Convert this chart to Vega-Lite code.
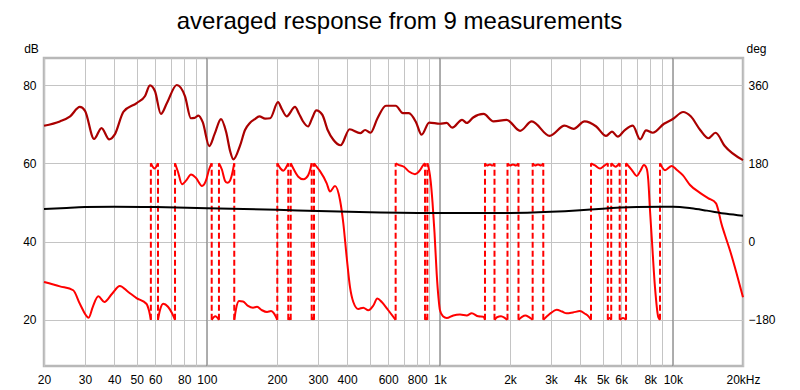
{
  "$schema": "https://vega.github.io/schema/vega-lite/v6.json",
  "width": 699,
  "height": 308,
  "autosize": {"type": "none"},
  "padding": {"left": 44, "top": 58, "right": 57, "bottom": 24},
  "background": "white",
  "config": {
    "font": "Liberation Sans",
    "view": {"stroke": "#b8b8b8", "strokeWidth": 2.5},
    "axis": {"labelFont": "Liberation Sans", "labelFontSize": 12, "labelColor": "#000", "titleFont": "Liberation Sans", "titleFontSize": 12, "titleFontWeight": "normal", "titleColor": "#000"}
  },
  "title": {"text": "averaged response from 9 measurements", "font": "Liberation Sans", "fontSize": 24, "fontWeight": "normal", "color": "#000", "anchor": "middle", "frame": "group", "offset": 8, "dx": 6},
  "datasets": {
    "decades": [{"f": 100}, {"f": 1000}, {"f": 10000}],
    "mag": [
      {"f": 20, "db": 69.6}, {"f": 23.4, "db": 70.7}, {"f": 25.9, "db": 72.0}, {"f": 28.5, "db": 74.4}, {"f": 30.0, "db": 73.4},
      {"f": 32.8, "db": 66.2}, {"f": 35.3, "db": 69.0}, {"f": 38.1, "db": 66.1}, {"f": 40.2, "db": 67.3}, {"f": 43.9, "db": 73.2},
      {"f": 50, "db": 75.4}, {"f": 54.3, "db": 77.2}, {"f": 57, "db": 79.9}, {"f": 59.9, "db": 78.4}, {"f": 63.5, "db": 72.6},
      {"f": 67.4, "db": 75.4}, {"f": 74.3, "db": 80.0}, {"f": 80.6, "db": 77.1}, {"f": 85.4, "db": 71.5}, {"f": 88.5, "db": 71.6},
      {"f": 92, "db": 72.2}, {"f": 96, "db": 70.5}, {"f": 102.4, "db": 64.4}, {"f": 108, "db": 67.5}, {"f": 115, "db": 71.3},
      {"f": 121, "db": 68}, {"f": 126, "db": 63}, {"f": 130, "db": 61.0}, {"f": 138.8, "db": 64.5}, {"f": 145.8, "db": 68.5},
      {"f": 153, "db": 70.3}, {"f": 160, "db": 71.2}, {"f": 168, "db": 72.0}, {"f": 178, "db": 71.4}, {"f": 187, "db": 71.5},
      {"f": 202, "db": 75.6}, {"f": 210, "db": 73.8}, {"f": 220, "db": 72.0}, {"f": 239, "db": 74.4}, {"f": 248, "db": 72.8},
      {"f": 258, "db": 70.8}, {"f": 272, "db": 69.4}, {"f": 283, "db": 71.5}, {"f": 295, "db": 73.5}, {"f": 313, "db": 72.4},
      {"f": 330, "db": 68.5}, {"f": 349, "db": 66.0}, {"f": 375, "db": 64.6}, {"f": 410, "db": 68.7}, {"f": 455, "db": 67.7},
      {"f": 478, "db": 68.5}, {"f": 504, "db": 67.8}, {"f": 540, "db": 71.5}, {"f": 587, "db": 74.7}, {"f": 646, "db": 74.7},
      {"f": 694, "db": 72.8}, {"f": 736, "db": 72.8}, {"f": 790, "db": 70.5}, {"f": 835, "db": 67.3}, {"f": 900, "db": 70.4},
      {"f": 1000, "db": 70.1}, {"f": 1070, "db": 70.3}, {"f": 1130, "db": 69.1}, {"f": 1245, "db": 71.1}, {"f": 1305, "db": 70.3},
      {"f": 1390, "db": 71.7}, {"f": 1540, "db": 72.6}, {"f": 1700, "db": 70.7}, {"f": 1935, "db": 71.1}, {"f": 2210, "db": 68.3},
      {"f": 2480, "db": 70.7}, {"f": 2960, "db": 67.0}, {"f": 3430, "db": 69.6}, {"f": 3750, "db": 68.8}, {"f": 4180, "db": 70.7},
      {"f": 4690, "db": 69.4}, {"f": 5170, "db": 67.0}, {"f": 5480, "db": 68.1}, {"f": 5800, "db": 66.8}, {"f": 6220, "db": 68.5},
      {"f": 6730, "db": 69.6}, {"f": 7240, "db": 66.1}, {"f": 7670, "db": 68.4}, {"f": 8200, "db": 67.8}, {"f": 9160, "db": 70.1},
      {"f": 10000, "db": 71.3}, {"f": 11070, "db": 73.1}, {"f": 11930, "db": 72}, {"f": 13100, "db": 68.5}, {"f": 14200, "db": 66.4},
      {"f": 15250, "db": 67.8}, {"f": 16700, "db": 64.4}, {"f": 20000, "db": 60.8}
    ],
    "black": [
      {"f": 20, "db": 48.3}, {"f": 25, "db": 48.6}, {"f": 30, "db": 48.8}, {"f": 40, "db": 48.9}, {"f": 60, "db": 48.8},
      {"f": 100, "db": 48.5}, {"f": 200, "db": 48.1}, {"f": 300, "db": 47.8}, {"f": 500, "db": 47.5}, {"f": 1000, "db": 47.3},
      {"f": 2000, "db": 47.3}, {"f": 3000, "db": 47.6}, {"f": 4000, "db": 48.0}, {"f": 5000, "db": 48.4}, {"f": 7000, "db": 48.8},
      {"f": 9000, "db": 48.9}, {"f": 10000, "db": 48.9}, {"f": 12000, "db": 48.5}, {"f": 14000, "db": 47.9}, {"f": 17000, "db": 47.1},
      {"f": 20000, "db": 46.6}
    ],
    "wraps": [
      {"f": 57.5}, {"f": 61.7}, {"f": 73.0}, {"f": 104.9}, {"f": 112.7}, {"f": 131.1}, {"f": 200.6}, {"f": 223.6}, {"f": 229.0},
      {"f": 281.8}, {"f": 288.3}, {"f": 646}, {"f": 863.7}, {"f": 883.6}, {"f": 1562}, {"f": 1716}, {"f": 1951}, {"f": 2175},
      {"f": 2502}, {"f": 2779}, {"f": 4453}, {"f": 5258}, {"f": 5438}, {"f": 5913}, {"f": 6295}, {"f": 8807}
    ],
    "phase": [
      {"s": 1, "f": 20, "deg": -93}, {"s": 1, "f": 23.4, "deg": -103}, {"s": 1, "f": 26.7, "deg": -112}, {"s": 1, "f": 28.5, "deg": -143},
      {"s": 1, "f": 31.1, "deg": -175}, {"s": 1, "f": 32.4, "deg": -150}, {"s": 1, "f": 34.2, "deg": -126}, {"s": 1, "f": 36.3, "deg": -139},
      {"s": 1, "f": 39.2, "deg": -120}, {"s": 1, "f": 42.3, "deg": -102}, {"s": 1, "f": 46.0, "deg": -116}, {"s": 1, "f": 49.9, "deg": -130},
      {"s": 1, "f": 55, "deg": -143}, {"s": 1, "f": 56.4, "deg": -158}, {"s": 1, "f": 57.5, "deg": -180},
      {"s": 2, "f": 57.5, "deg": 180}, {"s": 2, "f": 59.6, "deg": 168}, {"s": 2, "f": 61.7, "deg": 180},
      {"s": 3, "f": 61.7, "deg": -180}, {"s": 3, "f": 62.9, "deg": -158}, {"s": 3, "f": 65.0, "deg": -143}, {"s": 3, "f": 68.1, "deg": -150},
      {"s": 3, "f": 70.9, "deg": -165}, {"s": 3, "f": 73.0, "deg": -180},
      {"s": 4, "f": 73.0, "deg": 180}, {"s": 4, "f": 75.2, "deg": 160}, {"s": 4, "f": 78.2, "deg": 132}, {"s": 4, "f": 81.4, "deg": 140},
      {"s": 4, "f": 85.5, "deg": 154}, {"s": 4, "f": 89.9, "deg": 146}, {"s": 4, "f": 95.3, "deg": 128}, {"s": 4, "f": 99.1, "deg": 140},
      {"s": 4, "f": 102.1, "deg": 165}, {"s": 4, "f": 104.9, "deg": 180},
      {"s": 5, "f": 104.9, "deg": -180}, {"s": 5, "f": 108.7, "deg": -172}, {"s": 5, "f": 112.7, "deg": -180},
      {"s": 6, "f": 112.7, "deg": 180}, {"s": 6, "f": 116.1, "deg": 165}, {"s": 6, "f": 119.6, "deg": 140}, {"s": 6, "f": 122.4, "deg": 135},
      {"s": 6, "f": 125.7, "deg": 140}, {"s": 6, "f": 128.9, "deg": 160}, {"s": 6, "f": 131.1, "deg": 180},
      {"s": 7, "f": 131.1, "deg": -180}, {"s": 7, "f": 133.4, "deg": -155}, {"s": 7, "f": 137.4, "deg": -137}, {"s": 7, "f": 142.9, "deg": -138},
      {"s": 7, "f": 150.2, "deg": -148}, {"s": 7, "f": 157.8, "deg": -152}, {"s": 7, "f": 164.2, "deg": -150}, {"s": 7, "f": 172.5, "deg": -158},
      {"s": 7, "f": 181.3, "deg": -162}, {"s": 7, "f": 188.6, "deg": -160}, {"s": 7, "f": 194.1, "deg": -165}, {"s": 7, "f": 200.6, "deg": -180},
      {"s": 8, "f": 200.6, "deg": 180}, {"s": 8, "f": 207.0, "deg": 168}, {"s": 8, "f": 212.8, "deg": 163}, {"s": 8, "f": 218.6, "deg": 170},
      {"s": 8, "f": 223.6, "deg": 180},
      {"s": 9, "f": 223.6, "deg": -180}, {"s": 9, "f": 226.2, "deg": -176}, {"s": 9, "f": 229.0, "deg": -180},
      {"s": 10, "f": 229.0, "deg": 180}, {"s": 10, "f": 236.6, "deg": 165}, {"s": 10, "f": 246.9, "deg": 149}, {"s": 10, "f": 259.4, "deg": 143},
      {"s": 10, "f": 266.4, "deg": 146}, {"s": 10, "f": 272.5, "deg": 153}, {"s": 10, "f": 278.5, "deg": 168}, {"s": 10, "f": 281.8, "deg": 180},
      {"s": 11, "f": 281.8, "deg": -180}, {"s": 11, "f": 284.9, "deg": -175}, {"s": 11, "f": 288.3, "deg": -180},
      {"s": 12, "f": 288.3, "deg": 180}, {"s": 12, "f": 296.1, "deg": 172}, {"s": 12, "f": 305.9, "deg": 162}, {"s": 12, "f": 326.9, "deg": 134},
      {"s": 12, "f": 337.7, "deg": 115}, {"s": 12, "f": 354.8, "deg": 128}, {"s": 12, "f": 372.9, "deg": 95}, {"s": 12, "f": 385.2, "deg": 42},
      {"s": 12, "f": 398.2, "deg": -36}, {"s": 12, "f": 411.5, "deg": -105}, {"s": 12, "f": 425.1, "deg": -139}, {"s": 12, "f": 446.6, "deg": -155},
      {"s": 12, "f": 469.3, "deg": -152}, {"s": 12, "f": 493.1, "deg": -158}, {"s": 12, "f": 518.2, "deg": -147}, {"s": 12, "f": 539.1, "deg": -131},
      {"s": 12, "f": 563.1, "deg": -139}, {"s": 12, "f": 600.7, "deg": -158}, {"s": 12, "f": 646, "deg": -180},
      {"s": 13, "f": 646, "deg": 180}, {"s": 13, "f": 661, "deg": 177}, {"s": 13, "f": 701, "deg": 172}, {"s": 13, "f": 736.6, "deg": 161},
      {"s": 13, "f": 781.9, "deg": 155}, {"s": 13, "f": 822, "deg": 164}, {"s": 13, "f": 846.8, "deg": 175}, {"s": 13, "f": 863.7, "deg": 180},
      {"s": 14, "f": 863.7, "deg": -180}, {"s": 14, "f": 873.5, "deg": -176}, {"s": 14, "f": 883.6, "deg": -180},
      {"s": 15, "f": 883.6, "deg": 180}, {"s": 15, "f": 898.5, "deg": 165}, {"s": 15, "f": 913.7, "deg": 138}, {"s": 15, "f": 930, "deg": 90},
      {"s": 15, "f": 948.6, "deg": 20}, {"s": 15, "f": 969.4, "deg": -75}, {"s": 15, "f": 986.8, "deg": -130}, {"s": 15, "f": 1001, "deg": -158},
      {"s": 15, "f": 1031, "deg": -172}, {"s": 15, "f": 1070, "deg": -176}, {"s": 15, "f": 1142, "deg": -170}, {"s": 15, "f": 1220, "deg": -168},
      {"s": 15, "f": 1304, "deg": -170}, {"s": 15, "f": 1370, "deg": -165}, {"s": 15, "f": 1462, "deg": -172}, {"s": 15, "f": 1536, "deg": -173},
      {"s": 15, "f": 1562, "deg": -180},
      {"s": 16, "f": 1562, "deg": 180}, {"s": 16, "f": 1593, "deg": 175}, {"s": 16, "f": 1641, "deg": 177}, {"s": 16, "f": 1682, "deg": 175}, {"s": 16, "f": 1716, "deg": 180},
      {"s": 17, "f": 1716, "deg": -180}, {"s": 17, "f": 1759, "deg": -174}, {"s": 17, "f": 1830, "deg": -172}, {"s": 17, "f": 1903, "deg": -176}, {"s": 17, "f": 1951, "deg": -180},
      {"s": 18, "f": 1951, "deg": 180}, {"s": 18, "f": 2000, "deg": 175}, {"s": 18, "f": 2060, "deg": 177}, {"s": 18, "f": 2122, "deg": 175}, {"s": 18, "f": 2175, "deg": 180},
      {"s": 19, "f": 2175, "deg": -180}, {"s": 19, "f": 2252, "deg": -173}, {"s": 19, "f": 2331, "deg": -170}, {"s": 19, "f": 2413, "deg": -174}, {"s": 19, "f": 2502, "deg": -180},
      {"s": 20, "f": 2502, "deg": 180}, {"s": 20, "f": 2561, "deg": 175}, {"s": 20, "f": 2638, "deg": 177}, {"s": 20, "f": 2718, "deg": 175}, {"s": 20, "f": 2779, "deg": 180},
      {"s": 21, "f": 2779, "deg": -180}, {"s": 21, "f": 2882, "deg": -172}, {"s": 21, "f": 3000, "deg": -164}, {"s": 21, "f": 3172, "deg": -157},
      {"s": 21, "f": 3344, "deg": -161}, {"s": 21, "f": 3502, "deg": -165}, {"s": 21, "f": 3727, "deg": -163}, {"s": 21, "f": 3993, "deg": -160},
      {"s": 21, "f": 4197, "deg": -166}, {"s": 21, "f": 4345, "deg": -172}, {"s": 21, "f": 4453, "deg": -180},
      {"s": 22, "f": 4453, "deg": 180}, {"s": 22, "f": 4633, "deg": 175}, {"s": 22, "f": 4868, "deg": 168}, {"s": 22, "f": 5064, "deg": 174}, {"s": 22, "f": 5258, "deg": 180},
      {"s": 23, "f": 5258, "deg": -180}, {"s": 23, "f": 5347, "deg": -176}, {"s": 23, "f": 5438, "deg": -180},
      {"s": 24, "f": 5438, "deg": 180}, {"s": 24, "f": 5535, "deg": 176}, {"s": 24, "f": 5673, "deg": 172}, {"s": 24, "f": 5815, "deg": 176}, {"s": 24, "f": 5913, "deg": 180},
      {"s": 25, "f": 5913, "deg": -180}, {"s": 25, "f": 6109, "deg": -176}, {"s": 25, "f": 6295, "deg": -180},
      {"s": 26, "f": 6295, "deg": 180}, {"s": 26, "f": 6658, "deg": 165}, {"s": 26, "f": 6996, "deg": 151}, {"s": 26, "f": 7226, "deg": 161},
      {"s": 26, "f": 7517, "deg": 176}, {"s": 26, "f": 7720, "deg": 168}, {"s": 26, "f": 7844, "deg": 141}, {"s": 26, "f": 7977, "deg": 72},
      {"s": 26, "f": 8112, "deg": 11}, {"s": 26, "f": 8380, "deg": -105}, {"s": 26, "f": 8659, "deg": -174}, {"s": 26, "f": 8807, "deg": -180},
      {"s": 27, "f": 8807, "deg": 180}, {"s": 27, "f": 9253, "deg": 164}, {"s": 27, "f": 9886, "deg": 174}, {"s": 27, "f": 10388, "deg": 165},
      {"s": 27, "f": 11053, "deg": 152}, {"s": 27, "f": 11849, "deg": 130}, {"s": 27, "f": 13079, "deg": 112}, {"s": 27, "f": 14157, "deg": 100},
      {"s": 27, "f": 15320, "deg": 88}, {"s": 27, "f": 15703, "deg": 70}, {"s": 27, "f": 16088, "deg": 45}, {"s": 27, "f": 16731, "deg": 15},
      {"s": 27, "f": 17578, "deg": -20}, {"s": 27, "f": 18790, "deg": -74}, {"s": 27, "f": 20000, "deg": -128}
    ]
  },
  "encoding": {
    "x": {
      "field": "f", "type": "quantitative",
      "scale": {"type": "log", "domain": [20, 20000], "nice": false, "zero": false},
      "axis": {
        "title": null,
        "values": [20, 30, 40, 50, 60, 70, 80, 90, 100, 200, 300, 400, 500, 600, 700, 800, 900, 1000, 2000, 3000, 4000, 5000, 6000, 7000, 8000, 9000, 10000, 20000],
        "labelExpr": "indexof([20,30,40,50,60,80,100,200,300,400,600,800], datum.value) >= 0 ? '' + datum.value : (indexof([1000,2000,3000,4000,5000,6000,8000,10000], datum.value) >= 0 ? (datum.value / 1000) + 'k' : (datum.value == 20000 ? '20kHz' : ''))",
        "labelOverlap": false, "labelFlush": false, "labelPadding": 8,
        "ticks": false, "domain": false,
        "grid": true, "gridColor": "#c4c4c4", "gridWidth": 1
      }
    }
  },
  "layer": [
    {
      "layer": [
        {
          "data": {"name": "decades"},
          "mark": {"type": "rule", "color": "#808080", "strokeWidth": 1},
          "encoding": {}
        },
        {
          "data": {"name": "mag"},
          "mark": {"type": "line", "color": "#aa0000", "strokeWidth": 2.2, "interpolate": "monotone"},
          "encoding": {
            "y": {
              "field": "db", "type": "quantitative",
              "scale": {"domain": [8.2, 86.9], "nice": false, "zero": false},
              "axis": {
                "orient": "left", "values": [20, 40, 60, 80], "grid": true, "gridColor": "#c4c4c4",
                "ticks": false, "domain": false, "labelPadding": 8,
                "title": "dB", "titleAngle": 0, "titleX": -13, "titleY": -6, "titleAlign": "center", "titleBaseline": "alphabetic"
              }
            }
          }
        }
      ]
    },
    {
      "layer": [
        {
          "data": {"name": "wraps"},
          "mark": {"type": "rule", "color": "#ff0000", "strokeWidth": 2, "strokeDash": [6, 3]},
          "encoding": {
            "y": {"datum": -180, "type": "quantitative"},
            "y2": {"datum": 180}
          }
        },
        {
          "data": {"name": "phase"},
          "mark": {"type": "line", "color": "#ff0000", "strokeWidth": 2, "interpolate": "monotone"},
          "encoding": {
            "detail": {"field": "s", "type": "nominal"},
            "y": {
              "field": "deg", "type": "quantitative",
              "scale": {"domain": [-286.2, 422.1], "nice": false, "zero": false},
              "axis": {
                "orient": "right", "values": [-180, 0, 180, 360], "grid": false,
                "ticks": false, "domain": false, "labelPadding": 5,
                "title": "deg", "titleAngle": 0, "titleX": 13, "titleY": -6, "titleAlign": "center", "titleBaseline": "alphabetic"
              }
            }
          }
        }
      ]
    },
    {
      "data": {"name": "black"},
      "mark": {"type": "line", "color": "#000000", "strokeWidth": 2, "interpolate": "monotone"},
      "encoding": {
        "y": {"field": "db", "type": "quantitative", "scale": {"domain": [8.2, 86.9], "nice": false, "zero": false}, "axis": null}
      }
    }
  ],
  "resolve": {"scale": {"y": "independent"}}
}
